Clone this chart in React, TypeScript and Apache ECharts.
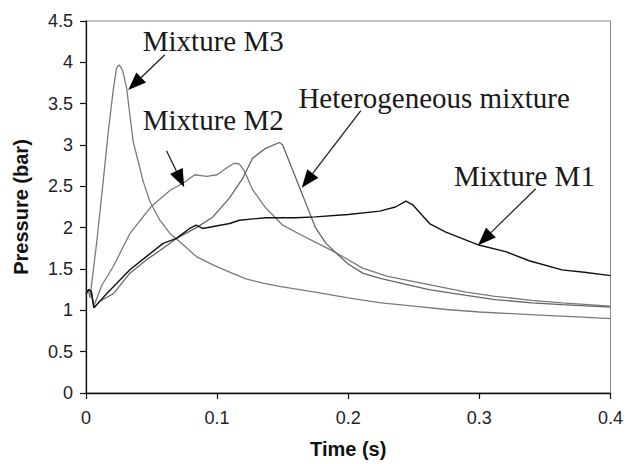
import React, { useEffect, useRef } from "react";
import * as echarts from "echarts";

// Mixture M1 (black)
const T_M1 = [0, 0.002, 0.004, 0.006, 0.0157, 0.0335, 0.046, 0.0588, 0.069, 0.079, 0.084, 0.089, 0.1095, 0.117, 0.137, 0.16, 0.175, 0.2, 0.224, 0.236, 0.244, 0.249, 0.262, 0.274, 0.2996, 0.32, 0.338, 0.363, 0.38, 0.4];
const P_M1 = [1.2, 1.25, 1.23, 1.03, 1.2, 1.49, 1.65, 1.81, 1.87, 1.99, 2.03, 1.99, 2.05, 2.09, 2.12, 2.12, 2.13, 2.16, 2.2, 2.25, 2.32, 2.28, 2.05, 1.95, 1.79, 1.71, 1.6, 1.49, 1.46, 1.42];

// Mixture M2
const T_M2 = [0, 0.002, 0.004, 0.006, 0.012, 0.0208, 0.0335, 0.05, 0.064, 0.075, 0.083, 0.092, 0.1, 0.108, 0.113, 0.117, 0.121, 0.127, 0.137, 0.15, 0.163, 0.1755, 0.188, 0.198, 0.211, 0.23, 0.2616, 0.29, 0.312, 0.34, 0.363, 0.4];
const P_M2 = [1.2, 1.25, 1.23, 1.05, 1.3, 1.53, 1.93, 2.26, 2.45, 2.55, 2.64, 2.62, 2.64, 2.73, 2.78, 2.77, 2.68, 2.46, 2.24, 2.03, 1.92, 1.82, 1.72, 1.63, 1.51, 1.41, 1.31, 1.22, 1.17, 1.12, 1.09, 1.05];

// Mixture M3
const T_M3 = [0, 0.002, 0.003, 0.008, 0.0131, 0.017, 0.0208, 0.0233, 0.0253, 0.0278, 0.031, 0.0335, 0.036, 0.0398, 0.0436, 0.0487, 0.0563, 0.064, 0.0715, 0.0842, 0.0968, 0.11, 0.122, 0.135, 0.1475, 0.163, 0.178, 0.2, 0.225, 0.25, 0.275, 0.3, 0.325, 0.35, 0.375, 0.4];
const P_M3 = [1.2, 1.24, 1.15, 1.8, 2.56, 3.16, 3.67, 3.93, 3.97, 3.91, 3.69, 3.36, 3.04, 2.8, 2.56, 2.32, 2.09, 1.93, 1.83, 1.65, 1.55, 1.46, 1.38, 1.33, 1.29, 1.25, 1.21, 1.15, 1.09, 1.05, 1.01, 0.98, 0.96, 0.94, 0.92, 0.9];

// Heterogeneous mixture
const T_HET = [0, 0.002, 0.004, 0.006, 0.0106, 0.0208, 0.0335, 0.046, 0.0588, 0.069, 0.0842, 0.0968, 0.1095, 0.1196, 0.127, 0.137, 0.1475, 0.15, 0.155, 0.16, 0.165, 0.17, 0.175, 0.183, 0.193, 0.2, 0.211, 0.2236, 0.24, 0.2616, 0.29, 0.312, 0.34, 0.363, 0.4];
const P_HET = [1.2, 1.25, 1.23, 1.03, 1.11, 1.2, 1.45, 1.61, 1.75, 1.87, 2.0, 2.13, 2.36, 2.6, 2.84, 2.96, 3.03, 3.0, 2.8, 2.6, 2.4, 2.2, 2.0, 1.81, 1.66, 1.56, 1.45, 1.39, 1.33, 1.25, 1.18, 1.13, 1.09, 1.07, 1.04];

// Annotations in data coordinates: label anchor (left, middle), arrow start, arrow tip
const ANN_TEXT = ["Mixture M3", "Mixture M2", "Heterogeneous mixture", "Mixture M1"];
const ANN_AT = [[0.0433, 4.256], [0.0433, 3.3], [0.162, 3.573], [0.2806, 2.626]];
const ANN_FROM = [[0.0601, 4.092], [0.0614, 2.93], [0.2096, 3.416], [0.343, 2.471]];
const ANN_TO = [[0.0322, 3.666], [0.0749, 2.489], [0.1646, 2.483], [0.299, 1.788]];

const SANS = '"Liberation Sans", Arial, sans-serif';
const SERIF = '"Liberation Serif", "Times New Roman", serif';

function pairs(t: number[], p: number[]) {
  return t.map((v, i) => [v, p[i]]);
}

export default function App() {
  const ref = useRef<HTMLDivElement>(null);
  useEffect(() => {
    const chart = echarts.init(ref.current!, null, { renderer: "svg" });
    const axisCommon = {
      type: "value",
      nameLocation: "middle",
      nameTextStyle: { fontFamily: SANS, fontWeight: "bold", fontSize: 20, color: "#111" },
      axisLine: { show: true, onZero: false, lineStyle: { color: "#111", width: 1.3 } },
      axisTick: { show: true, length: 6, lineStyle: { color: "#111", width: 1.2 } },
      axisLabel: { fontSize: 18, color: "#222", fontFamily: SANS },
      splitLine: { show: false },
    };
    const lineSeries = (name: string, data: number[][], color: string, width: number) => ({
      name,
      type: "line",
      data,
      showSymbol: false,
      symbol: "none",
      lineStyle: { color, width },
      itemStyle: { color },
      z: 3,
    });
    chart.setOption({
      animation: false,
      grid: { left: 86, right: 14, top: 21, bottom: 66, show: true, borderColor: "#888", borderWidth: 1, backgroundColor: "transparent" },
      xAxis: { ...axisCommon, min: 0, max: 0.4, interval: 0.1, name: "Time (s)", nameGap: 46, axisLabel: { ...axisCommon.axisLabel, margin: 16 } },
      yAxis: { ...axisCommon, min: 0, max: 4.5, interval: 0.5, name: "Pressure (bar)", nameGap: 55, axisLabel: { ...axisCommon.axisLabel, margin: 13 } },
      series: [
        lineSeries("Mixture M3", pairs(T_M3, P_M3), "#7a7a7a", 1.3),
        lineSeries("Mixture M2", pairs(T_M2, P_M2), "#7a7a7a", 1.3),
        lineSeries("Heterogeneous mixture", pairs(T_HET, P_HET), "#666666", 1.3),
        lineSeries("Mixture M1", pairs(T_M1, P_M1), "#111111", 1.4),
      ],
    });

    const graphics: any[] = [];
    const HEAD = 18;
    const HW = 7;
    ANN_TEXT.forEach((text, i) => {
      const at = chart.convertToPixel({ gridIndex: 0 } as any, ANN_AT[i]) as number[];
      const s = chart.convertToPixel({ gridIndex: 0 } as any, ANN_FROM[i]) as number[];
      const e = chart.convertToPixel({ gridIndex: 0 } as any, ANN_TO[i]) as number[];
      const dx = e[0] - s[0];
      const dy = e[1] - s[1];
      const len = Math.sqrt(dx * dx + dy * dy);
      const ux = dx / len;
      const uy = dy / len;
      const bx = e[0] - ux * HEAD;
      const by = e[1] - uy * HEAD;
      graphics.push({
        type: "text",
        z: 10,
        style: { text, x: at[0], y: at[1], fontSize: 29, fontFamily: SERIF, fill: "#1a1a1a", align: "left", verticalAlign: "middle" },
      });
      graphics.push({
        type: "line",
        z: 10,
        shape: { x1: s[0], y1: s[1], x2: bx, y2: by },
        style: { stroke: "#222", lineWidth: 1.3 },
      });
      graphics.push({
        type: "polygon",
        z: 10,
        shape: { points: [[e[0], e[1]], [bx - uy * HW, by + ux * HW], [bx + uy * HW, by - ux * HW]] },
        style: { fill: "#000" },
      });
    });
    chart.setOption({ graphic: graphics });
    return () => chart.dispose();
  }, []);
  return <div ref={ref} style={{ position: "fixed", left: 0, top: 0, width: 626, height: 464, background: "#fff" }} />;
}
